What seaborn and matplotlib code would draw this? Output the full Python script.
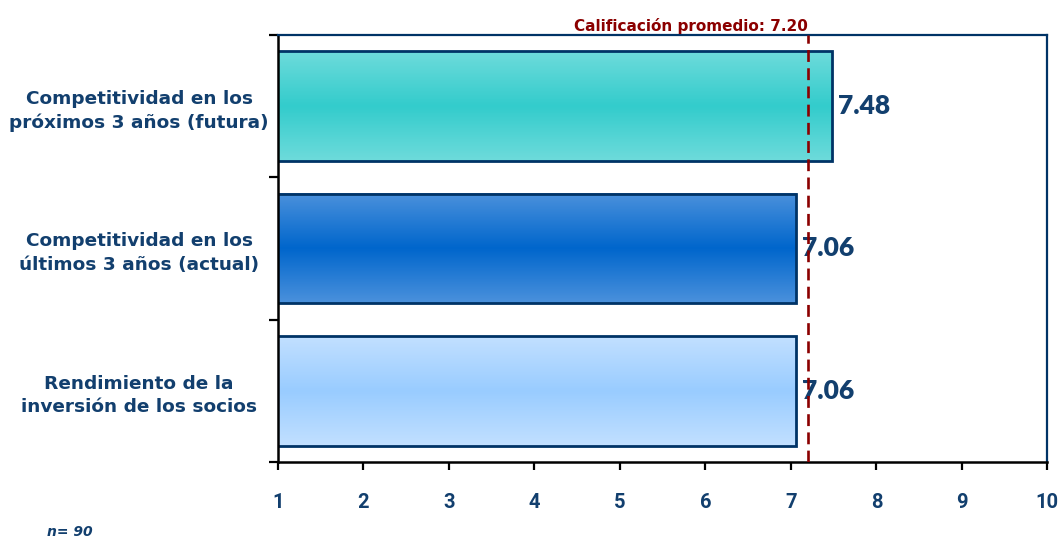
import numpy as np
import pandas as pd
import matplotlib
matplotlib.use("Agg")
import matplotlib.pyplot as plt
import matplotlib.transforms as mtransforms
import seaborn as sns

# ---- data -------------------------------------------------------------
categories = [
    "Competitividad en los\npróximos 3 años (futura)",
    "Competitividad en los\núltimos 3 años (actual)",
    "Rendimiento de la\ninversión de los socios",
]
scores = [7.48, 7.06, 7.06]
average_score = 7.20
average_label = "Calificación promedio: 7.20"
x_ticks = [1, 2, 3, 4, 5, 6, 7, 8, 9, 10]
sample_note = "n= 90"

# gradient colours per bar: (outer edge, centre)
bar_gradients = [
    ("#6EDBDB", "#33CCCC"),
    ("#4B91DC", "#0066CC"),
    ("#C2E0FF", "#99CCFF"),
]

NAVY = "#123F6E"
EDGE = "#003366"
RED = "#8B0000"

sns.set_theme(style="white")
plt.rcParams["font.family"] = ["DejaVu Sans"]

df = pd.DataFrame({"categoria": categories, "calificacion": scores})

fig = plt.figure(figsize=(10.61, 5.38), dpi=100)
ax = fig.add_axes([0.262, 0.1413, 0.7252, 0.7937])

sns.barplot(data=df, x="calificacion", y="categoria", orient="h",
            width=0.77, color="white", edgecolor=EDGE, linewidth=2,
            saturation=1, ax=ax)

ax.set_xlim(1, 10)
xlim = ax.get_xlim()
ylim = ax.get_ylim()

# vertical gradient fill inside each bar
def hex_rgb(h):
    h = h.lstrip("#")
    return np.array([int(h[i:i + 2], 16) / 255 for i in (0, 2, 4)])

for patch, (outer, centre) in zip(ax.patches, bar_gradients):
    n = 200
    t = np.abs(np.linspace(-1, 1, n))[:, None]
    c_out, c_mid = hex_rgb(outer), hex_rgb(centre)
    grad = c_mid + (c_out - c_mid) * t
    img = np.repeat(grad[:, None, :], 2, axis=1).reshape(n, 2, 3)
    x0 = max(patch.get_x(), xlim[0])
    x1 = patch.get_x() + patch.get_width()
    y0, h = patch.get_y(), patch.get_height()
    ax.imshow(img, extent=[x0, x1, y0 + h, y0], aspect="auto",
              interpolation="bilinear", zorder=1)
    patch.set_facecolor("none")
    patch.set_zorder(2)

ax.set_xlim(xlim)
ax.set_ylim(ylim)

# value labels
for patch, val in zip(ax.patches, scores):
    ax.text(val + 0.07, patch.get_y() + patch.get_height() / 2, f"{val:.2f}",
            ha="left", va="center", fontsize=19, fontweight="heavy",
            color=NAVY, family="Lato", zorder=3)

# average reference line
ax.axvline(average_score, color=RED, linestyle=(0, (4.5, 2.4)), linewidth=1.9,
           zorder=3)
trans = mtransforms.blended_transform_factory(ax.transData, ax.transAxes)
ax.text(average_score, 1.003, average_label, transform=trans, ha="right",
        va="bottom", fontsize=11, fontweight="bold", color=RED,
        family="DejaVu Sans")

# axes styling
ax.set_xlabel("")
ax.set_ylabel("")
ax.set_xticks(x_ticks)
ax.set_xticklabels([str(v) for v in x_ticks], fontsize=14.5, fontweight="bold",
                   color=NAVY, family="Roboto")
ax.tick_params(axis="x", which="major", direction="out", length=6, width=1.6,
               color="black", pad=16, bottom=True)

ax.set_yticks(range(len(categories)))
ax.set_yticklabels(categories, fontsize=13.3, fontweight="bold", color=NAVY,
                   ha="center", linespacing=1.4)
ax.tick_params(axis="y", which="major", length=0, pad=100)
ax.set_yticks([-0.5, 0.5, 1.5, 2.5], minor=True)
ax.tick_params(axis="y", which="minor", direction="out", length=6.5,
               width=1.6, color="black", left=True)

for side in ("left", "bottom"):
    ax.spines[side].set_color("black")
    ax.spines[side].set_linewidth(1.8)
for side in ("top", "right"):
    ax.spines[side].set_visible(True)
    ax.spines[side].set_color(EDGE)
    ax.spines[side].set_linewidth(1.6)

fig.text(47 / 1061, 1 - 532 / 538, sample_note, ha="left", va="center",
         fontsize=10, fontweight="bold", fontstyle="italic", color=NAVY)

fig.savefig("out.png", dpi=100, facecolor="white")
